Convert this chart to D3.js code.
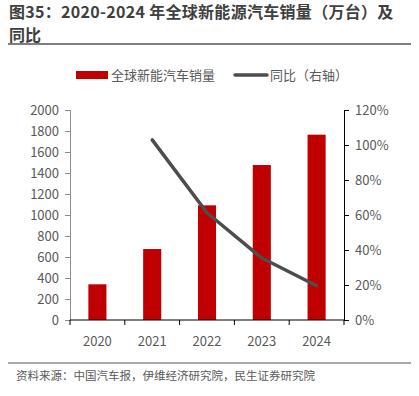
<!DOCTYPE html>
<html>
<head>
<meta charset="utf-8">
<script src="https://cdn.jsdelivr.net/npm/d3@7"></script>
<style>
  body { margin: 0; background: #fff; }
  svg { font-family: "Microsoft YaHei", "Noto Sans CJK SC", sans-serif; }
</style>
</head>
<body>
<div id="chart"></div>
<script>
// data
var years = ["2020", "2021", "2022", "2023", "2024"];
var sales = [340, 676, 1092, 1476, 1765];
var yoy = [null, 102.9, 61.3, 35.4, 19.6];
var leftTicks = [0, 200, 400, 600, 800, 1000, 1200, 1400, 1600, 1800, 2000];
var rightTicks = [0, 20, 40, 60, 80, 100, 120];

var W = 419, H = 396;
var margin = {top: 110, right: 75, bottom: 76, left: 70};

var svg = d3.select("#chart").append("svg")
    .attr("width", W).attr("height", H);

// title
svg.append("text").attr("x", 9).attr("y", 18)
  .attr("font-size", 16).attr("font-weight", "bold").attr("fill", "#404040")
  .attr("letter-spacing", 0.3)
  .text("图35：2020-2024 年全球新能源汽车销量（万台）及");
svg.append("text").attr("x", 9).attr("y", 40.5)
  .attr("font-size", 16).attr("font-weight", "bold").attr("fill", "#404040")
  .text("同比");
svg.append("line").attr("x1", 8).attr("x2", 411).attr("y1", 44).attr("y2", 44)
  .attr("stroke", "#555").attr("stroke-width", 1.5);

// legend
var lg = svg.append("g").attr("font-size", 13).attr("fill", "#595959");
lg.append("rect").attr("x", 76).attr("y", 71).attr("width", 32).attr("height", 8).attr("fill", "#c00000");
lg.append("text").attr("x", 111).attr("y", 80).attr("fill", "#595959").text("全球新能汽车销量");
lg.append("line").attr("x1", 235).attr("x2", 267).attr("y1", 75).attr("y2", 75)
  .attr("stroke", "#4d4d4d").attr("stroke-width", 3.5).attr("stroke-linecap", "round");
lg.append("text").attr("x", 270).attr("y", 80).attr("fill", "#595959").text("同比（右轴）");

var iw = W - margin.left - margin.right;
var ih = H - margin.top - margin.bottom;
var g = svg.append("g").attr("transform", "translate(" + margin.left + "," + margin.top + ")");

var x = d3.scaleBand().domain(years).range([0, iw]).paddingInner(0.67).paddingOuter(0.335);
var y = d3.scaleLinear().domain([0, 2000]).range([ih, 0]);
var y2 = d3.scaleLinear().domain([0, 120]).range([ih, 0]);

// bars
g.selectAll(".bar").data(sales).enter().append("rect")
  .attr("x", function(d, i) { return x(years[i]); })
  .attr("y", function(d) { return y(d); })
  .attr("width", x.bandwidth())
  .attr("height", function(d) { return ih - y(d); })
  .attr("fill", "#c00000");

// line
var pts = yoy.map(function(v, i) { return {v: v, yr: years[i]}; }).filter(function(d) { return d.v != null; });
g.append("path").datum(pts)
  .attr("fill", "none").attr("stroke", "#4d4d4d").attr("stroke-width", 3.5)
  .attr("stroke-linecap", "round").attr("stroke-linejoin", "round")
  .attr("d", d3.line()
    .x(function(d) { return x(d.yr) + x.bandwidth() / 2; })
    .y(function(d) { return y2(d.v); }));

// axes
var left = g.append("g").call(d3.axisLeft(y).tickValues(leftTicks).tickSize(5).tickPadding(6)
  .tickFormat(d3.format("d")));
left.select(".domain").attr("stroke", "#8c8c8c");
left.selectAll(".tick line").attr("stroke", "#8c8c8c");

var right = g.append("g").attr("transform", "translate(" + iw + ",0)")
  .call(d3.axisRight(y2).tickValues(rightTicks).tickSize(5).tickPadding(6)
    .tickFormat(function(d) { return d + "%"; }));
right.select(".domain").attr("stroke", "#000");

var x0 = d3.scalePoint().domain(d3.range(years.length + 1)).range([0, iw]);
var bottom = g.append("g").attr("transform", "translate(0," + ih + ")");
bottom.append("line").attr("x1", 0).attr("x2", iw).attr("stroke", "#000").attr("stroke-width", 1.2);
bottom.selectAll(".tk").data(x0.domain()).enter().append("line")
  .attr("x1", function(d) { return x0(d); }).attr("x2", function(d) { return x0(d); })
  .attr("y1", 0).attr("y2", 5).attr("stroke", "#000");
bottom.selectAll(".lbl").data(years).enter().append("text")
  .attr("x", function(d) { return x(d) + x.bandwidth() / 2; })
  .attr("y", 26).attr("text-anchor", "middle")
  .attr("font-size", 13).attr("fill", "#595959").text(function(d) { return d; });

svg.selectAll(".tick text").attr("font-size", 13).attr("fill", "#595959")
  .attr("font-family", "\"Microsoft YaHei\", \"Noto Sans CJK SC\", sans-serif");

// source
svg.append("line").attr("x1", 8).attr("x2", 411).attr("y1", 363).attr("y2", 363)
  .attr("stroke", "#555").attr("stroke-width", 1.2);
svg.append("text").attr("x", 16).attr("y", 380)
  .attr("font-size", 11.5).attr("fill", "#595959")
  .text("资料来源：中国汽车报，伊维经济研究院，民生证券研究院");
</script>
</body>
</html>
